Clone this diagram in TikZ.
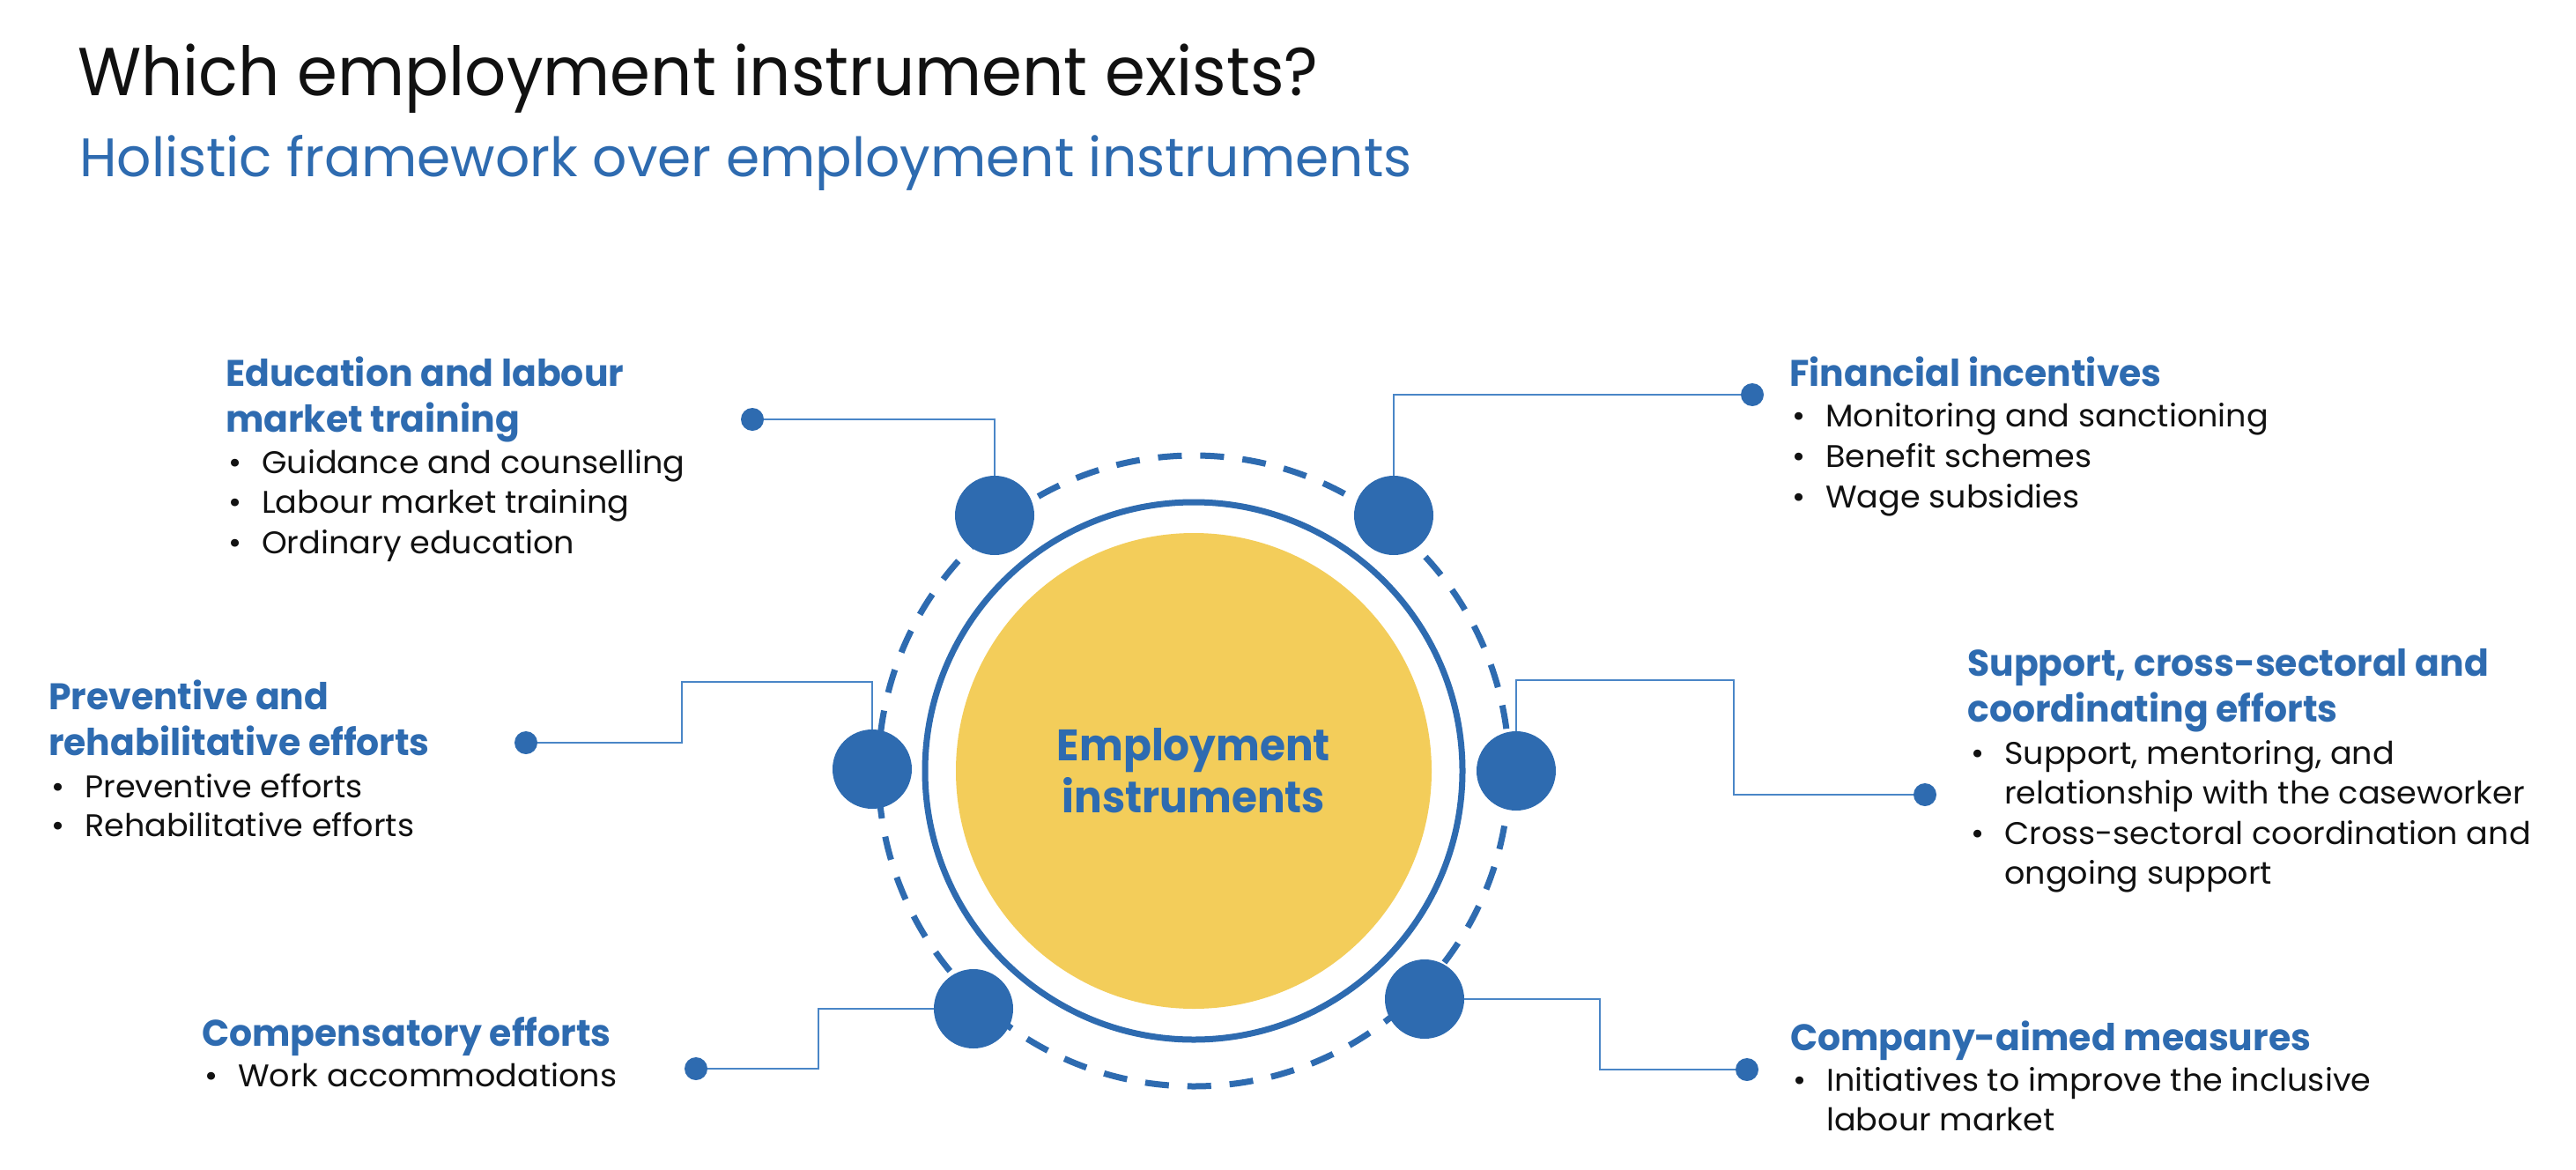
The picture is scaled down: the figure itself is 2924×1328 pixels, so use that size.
\documentclass[tikz,border=0pt]{standalone}
\usepackage{fontspec}
\newfontfamily\popT{Poppins}[FakeStretch=0.96]
\newfontfamily\popS{Poppins}[FakeStretch=1.0]
\newfontfamily\popH{Poppins}[FakeStretch=0.975]
\newfontfamily\popB{Poppins}[FakeStretch=1.03]
\newfontfamily\popC{Poppins}[FakeStretch=0.94]
\definecolor{eblue}{RGB}{46,107,176}
\definecolor{lblue}{RGB}{74,134,199}
\definecolor{eyellow}{RGB}{243,205,90}
\definecolor{tblack}{RGB}{17,17,17}
\tikzset{
  head/.style={anchor=base west, inner sep=0pt, text=eblue, font=\popH\bfseries\fontsize{42}{50}\selectfont},
  body/.style={anchor=base west, inner sep=0pt, text=tblack, font=\popB\fontsize{35.5}{44}\selectfont},
  bigdot/.style={circle, fill=eblue, minimum size=90pt, inner sep=0pt},
  smalldot/.style={circle, fill=eblue, minimum size=26pt, inner sep=0pt},
  conn/.style={draw=lblue, line width=2.2pt},
  ctext/.style={anchor=base, inner sep=0pt, text=eblue, font=\popC\bfseries\fontsize{50}{60}\selectfont}
}
\newcommand{\bul}{\makebox[38pt][l]{•}}
\begin{document}
\begin{tikzpicture}[x=1pt,y=-1pt]
\useasboundingbox[fill=white] (0,0) rectangle (2924,1328);
% titles
\node[anchor=base west, inner sep=0pt, text=tblack, font=\popT\fontsize{77}{90}\selectfont] (title) at (88,108) {Which employment instrument exists?};
\node[anchor=base west, inner sep=0pt, text=eblue, font=\popS\fontsize{61.5}{72}\selectfont] (subtitle) at (90,200) {Holistic framework over employment instruments};
% central circles
\node[circle, fill=eyellow, minimum size=540pt, inner sep=0pt] (core) at (1355,875) {};
\node[circle, draw=eblue, line width=7pt, minimum size=610pt, inner sep=0pt] (ring) at (1355,875) {};
\node[circle, draw=eblue, line width=7pt, dash pattern=on 27pt off 21pt, minimum size=716pt, inner sep=0pt] (dring) at (1355,875) {};
\node[ctext] (c1) at (1355,863) {Employment};
\node[ctext] (c2) at (1355,922) {instruments};
% big dots
\node[bigdot] (d1) at (1129,585) {};
\node[bigdot] (d2) at (1582,585) {};
\node[bigdot] (d3) at (1721,875) {};
\node[bigdot] (d4) at (990,873) {};
\node[bigdot] (d5) at (1105,1145) {};
\node[bigdot] (d6) at (1617,1134) {};
% small dots
\node[smalldot] (s1) at (854,476) {};
\node[smalldot] (s2) at (1989,448) {};
\node[smalldot] (s3) at (2185,902) {};
\node[smalldot] (s4) at (597,843) {};
\node[smalldot] (s5) at (790,1213) {};
\node[smalldot] (s6) at (1983,1214) {};
% bend points
\coordinate (r1) at (1968,772);
\coordinate (l1) at (774,774);
\coordinate (bl1) at (929,1213);
\coordinate (br1) at (1816,1214);
% connectors
\draw[conn] (d1.north) |- (s1);
\draw[conn] (d2.north) |- (s2);
\draw[conn] (d3.north) |- (r1) |- (s3);
\draw[conn] (s4) -| (l1) -| (d4.north);
\draw[conn] (d5.west) -| (bl1) -- (s5);
\draw[conn] (d6.east) -| (br1) -- (s6);
% Education block
\node[head] (h1a) at (256,438) {Education and labour};
\node[head] (h1b) at (256,490) {market training};
\node[body] (b1a) at (259,537) {\bul Guidance and counselling};
\node[body] (b1b) at (259,582) {\bul Labour market training};
\node[body] (b1c) at (259,628) {\bul Ordinary education};
% Financial block
\node[head] (h2a) at (2031,438) {Financial incentives};
\node[body] (b2a) at (2034,484) {\bul Monitoring and sanctioning};
\node[body] (b2b) at (2034,530) {\bul Benefit schemes};
\node[body] (b2c) at (2034,576) {\bul Wage subsidies};
% Preventive block
\node[head] (h3a) at (55,805) {Preventive and};
\node[head] (h3b) at (55,857) {rehabilitative efforts};
\node[body] (b3a) at (58,905) {\bul Preventive efforts};
\node[body] (b3b) at (58,949) {\bul Rehabilitative efforts};
% Support block
\node[head] (h4a) at (2233,767) {Support, cross-sectoral and};
\node[head] (h4b) at (2233,819) {coordinating efforts};
\node[body] (b4a) at (2237,867) {\bul Support, mentoring, and};
\node[body] (b4b) at (2275,912) {relationship with the caseworker};
\node[body] (b4c) at (2237,958) {\bul Cross-sectoral coordination and};
\node[body] (b4d) at (2275,1003) {ongoing support};
% Compensatory block
\node[head] (h5a) at (229,1187) {Compensatory efforts};
\node[body] (b5a) at (232,1233) {\bul Work accommodations};
% Company block
\node[head] (h6a) at (2032,1192) {Company-aimed measures};
\node[body] (b6a) at (2035,1238) {\bul Initiatives to improve the inclusive};
\node[body] (b6b) at (2073,1283) {labour market};
\end{tikzpicture}
\end{document}
